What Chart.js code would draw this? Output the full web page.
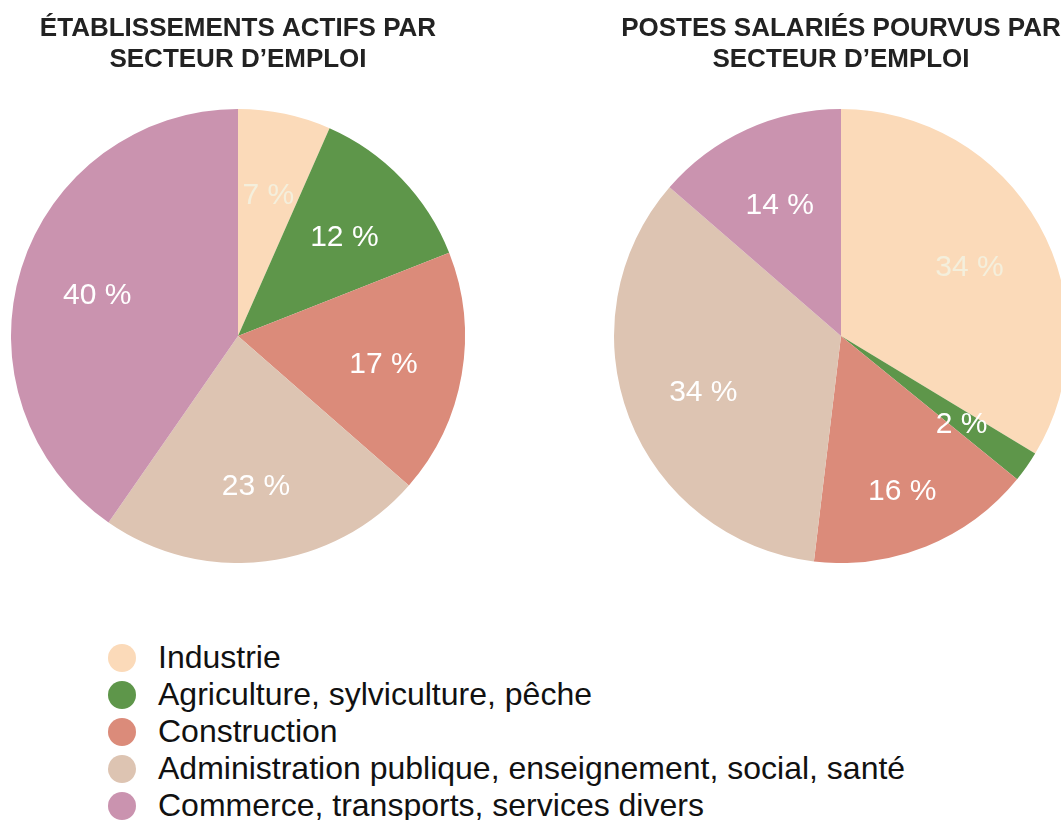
<!DOCTYPE html>
<html>
<head>
<meta charset="utf-8">
<script src="https://cdn.jsdelivr.net/npm/chart.js@4"></script>
<style>
  html, body { margin: 0; padding: 0; background: #fff; overflow: hidden; }
  body { width: 1061px; height: 820px; position: relative; font-family: "Liberation Sans", Arial, Helvetica, sans-serif; }
  #left-chart { position: absolute; left: 0; top: 0; }
  #right-chart { position: absolute; left: 603px; top: 0; }
  #legend { position: absolute; left: 108px; top: 639px; margin: 0; padding: 0; list-style: none; }
  #legend li { height: 37px; display: flex; align-items: center; font-size: 32px; color: #111; white-space: nowrap; }
  #legend span.dot { width: 28px; height: 28px; border-radius: 50%; display: inline-block; margin-right: 22px; }
</style>
</head>
<body>
<canvas id="left-chart" width="476" height="563"></canvas>
<canvas id="right-chart" width="476" height="563"></canvas>
<ul id="legend"></ul>
<script>
const sectors = [
  "Industrie",
  "Agriculture, sylviculture, pêche",
  "Construction",
  "Administration publique, enseignement, social, santé",
  "Commerce, transports, services divers"
];
const sectorColors = ["#fbdab9", "#5e964a", "#db8b7a", "#ddc4b2", "#ca93af"];
const labelColors = ["#f4efdc", "#ffffff", "#ffffff", "#ffffff", "#ffffff"];

// part en %
const etablissements = [6.6, 12.4, 17.4, 23.2, 40.3];
const postesSalaries = [33.6, 2.2, 16.0, 34.4, 13.6];

const leftTitle = ["ÉTABLISSEMENTS ACTIFS PAR", "SECTEUR D’EMPLOI"];
const rightTitle = ["POSTES SALARIÉS POURVUS PAR", "SECTEUR D’EMPLOI"];

Chart.defaults.font.family = '"Liberation Sans", Arial, Helvetica, sans-serif';

// labels "xx %" inside each slice
const sliceLabels = {
  id: "sliceLabels",
  afterDatasetsDraw(chart, args, opts) {
    const ctx = chart.ctx;
    const meta = chart.getDatasetMeta(0);
    const values = chart.data.datasets[0].data;
    const radii = opts.radii || [];
    ctx.save();
    ctx.font = '30px "Liberation Sans", Arial, sans-serif';
    ctx.textAlign = "center";
    ctx.textBaseline = "middle";
    meta.data.forEach((arc, i) => {
      const mid = (arc.startAngle + arc.endAngle) / 2;
      const r = arc.outerRadius * (radii[i] || 0.65);
      ctx.fillStyle = labelColors[i];
      ctx.fillText(Math.round(values[i]) + " %", arc.x + Math.cos(mid) * r, arc.y + Math.sin(mid) * r + 4);
    });
    ctx.restore();
  }
};

function renderPie(elementId, title, values, radii) {
  const ctx = document.getElementById(elementId).getContext("2d");
  return new Chart(ctx, {
    type: "pie",
    data: {
      labels: sectors,
      datasets: [{
        data: values,
        backgroundColor: sectorColors,
        borderWidth: 0,
        hoverOffset: 0
      }]
    },
    options: {
      responsive: false,
      animation: false,
      devicePixelRatio: 1,
      layout: { padding: 0 },
      plugins: {
        legend: { display: false },
        tooltip: { enabled: false },
        title: {
          display: true,
          text: title,
          color: "#222",
          font: { size: 26, weight: "bold", lineHeight: "31px" },
          padding: { top: 13, bottom: 34 }
        },
        sliceLabels: { radii: radii }
      }
    },
    plugins: [sliceLabels]
  });
}

renderPie("left-chart", leftTitle, etablissements, []);
renderPie("right-chart", rightTitle, postesSalaries, [0.65, 0.65, 0.72, 0.65, 0.65]);

// legend
const legend = document.getElementById("legend");
sectors.forEach((name, i) => {
  const li = document.createElement("li");
  const dot = document.createElement("span");
  dot.className = "dot";
  dot.style.background = sectorColors[i];
  li.appendChild(dot);
  li.appendChild(document.createTextNode(name));
  legend.appendChild(li);
});
</script>
</body>
</html>
